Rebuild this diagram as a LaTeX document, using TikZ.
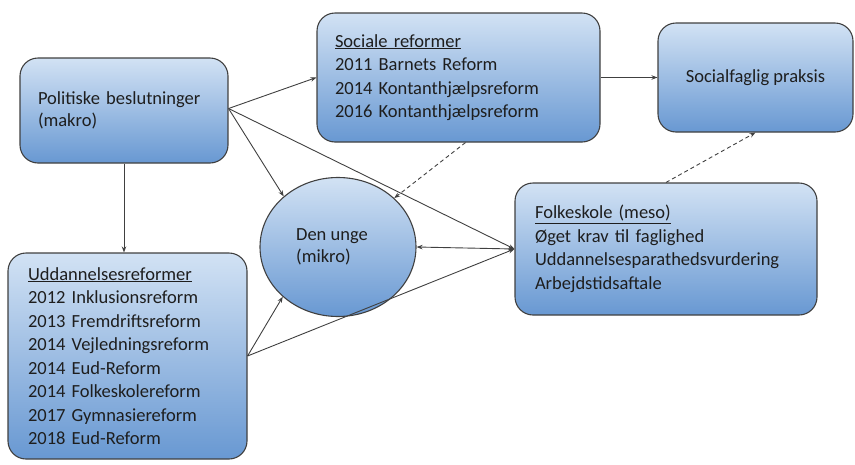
\documentclass[tikz,border=0pt]{standalone}
\usepackage{fontspec}
\setmainfont{Carlito}
\usetikzlibrary{arrows.meta,shapes.geometric,calc}
\definecolor{boxtop}{RGB}{210,226,244}
\definecolor{boxbot}{RGB}{104,152,210}
\definecolor{edgeline}{RGB}{64,64,64}
\definecolor{txt}{RGB}{30,30,30}
\tikzset{
  boxstyle/.style={draw=edgeline, line width=1.1pt, rounded corners=18pt,
    top color=boxtop, bottom color=boxbot, text=txt,
    font=\fontsize{18.5}{23.5}\selectfont, align=left, inner ysep=0pt},
  ellstyle/.style={ellipse, draw=edgeline, line width=1.1pt,
    top color=boxtop, bottom color=boxbot, text=txt,
    font=\fontsize{18.5}{22.5}\selectfont, align=left, inner sep=0pt,
    minimum width=156pt, minimum height=139pt},
  conn/.style={draw=edgeline, line width=0.9pt, -{Stealth[length=6pt,width=4.5pt]}},
  dconn/.style={conn, dash pattern=on 4pt off 3pt}
}
\begin{document}
\begin{tikzpicture}[x=1pt,y=-1pt]
\useasboundingbox (0,0) rectangle (855,464);
% nodes
\node[boxstyle, minimum width=208pt, minimum height=105pt, text width=172pt,
  font=\fontsize{18.5}{22}\selectfont] (pol) at (124,110.5)
  {Politiske beslutninger\\(makro)};
\node[boxstyle, minimum width=283pt, minimum height=129pt, text width=247pt] (soc) at (458.5,77.5)
  {\underline{Sociale reformer}\\2011 Barnets Reform\\2014 Kontanthjælpsreform\\2016 Kontanthjælpsreform};
\node[boxstyle, minimum width=195pt, minimum height=109pt, align=center] (socf) at (755.5,77.5)
  {Socialfaglig praksis};
\node[boxstyle, minimum width=302pt, minimum height=132pt, text width=262pt] (fol) at (666,249)
  {\underline{Folkeskole (meso)}\\Øget krav til faglighed\\Uddannelsesparathedsvurdering\\Arbejdstidsaftale};
\node[boxstyle, minimum width=239pt, minimum height=206pt, text width=199pt] (udd) at (127.5,356)
  {\underline{Uddannelsesreformer}\\2012 Inklusionsreform\\2013 Fremdriftsreform\\2014 Vejledningsreform\\2014 Eud-Reform\\2014 Folkeskolereform\\2017 Gymnasiereform\\2018 Eud-Reform};
\node[ellstyle] (den) at (338,247) {Den unge\hspace*{12pt}\\(mikro)};
% connectors
\coordinate (pe) at ([yshift=2pt]pol.east);
\draw[conn] (pe) -- (soc.west);
\draw[conn] (pe) -- (den.137);
\draw[conn] (pe) -- (fol.west);
\draw[conn] (pol.south) -- (pol.south |- udd.north);
\draw[conn] (udd.east) -- (den.222);
\draw[conn] (udd.east) -- (fol.west);
\draw[conn, {Stealth[length=6pt,width=4.5pt]}-{Stealth[length=6pt,width=4.5pt]}] (den.east) -- (fol.west);
\coordinate (sb) at ([xshift=7pt]soc.south);
\draw[dconn] (sb) -- (den.41.5);
\draw[dconn] (fol.north) -- (socf.south);
\draw[conn] (soc.east) -- (socf.west);
\end{tikzpicture}
\end{document}
